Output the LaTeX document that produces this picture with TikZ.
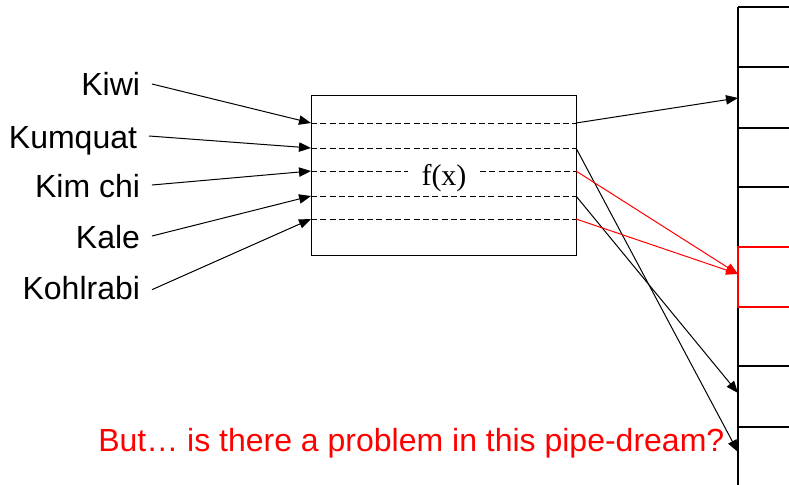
\documentclass[tikz,border=0pt]{standalone}
\usepackage{fontspec}
\setmainfont{Liberation Sans}
\newfontfamily\timesfont{Liberation Serif}
\usetikzlibrary{arrows.meta}
\begin{document}
\begin{tikzpicture}[x=0.75pt,y=-0.75pt,
  lbl/.style={anchor=base east, inner xsep=9pt, inner ysep=0pt, outer sep=0pt,
    text height=18pt, text depth=0pt, font=\fontsize{24}{28}\selectfont},
  arr/.style={-{Triangle[length=9pt,width=7pt]}, line width=0.75pt},
  redarr/.style={arr, draw=red, -{Triangle[length=9pt,width=7pt,fill=red]}},
  dashln/.style={dashed, dash pattern=on 4.5pt off 2.5pt, line width=0.75pt},
  cell/.style={line width=0.9pt},
  redcell/.style={line width=0.9pt, draw=red}
]
\useasboundingbox (0,0) rectangle (789,485);

% function box
\node[draw, line width=0.75pt, minimum width=198.75pt, minimum height=119.25pt,
  inner sep=0pt, outer sep=0pt] (fbox) at (443.5,175.5) {};
\foreach \i/\y in {1/123,2/148,3/171,4/196,5/219}{
  \coordinate (in\i) at (311,\y);
  \coordinate (out\i) at (576,\y);
}
\node[font=\timesfont\fontsize{22.5}{26}\selectfont, inner xsep=10pt, inner ysep=0pt] (fx) at (444,178) {f(x)};
\draw[dashln] (in1) -- (out1);
\draw[dashln] (in2) -- (out2);
\draw[dashln] (in3) -- (in3 -| fx.west);
\draw[dashln] (fx.east |- out3) -- (out3);
\draw[dashln] (in4) -- (out4);
\draw[dashln] (in5) -- (out5);

% labels
\node[lbl] (kiwi) at (152,96) {Kiwi};
\node[lbl] (kumquat) at (149,148) {Kumquat};
\node[lbl] (kimchi) at (152,197) {Kim chi};
\node[lbl] (kale) at (152,248) {Kale};
\node[lbl] (kohl) at (152,299) {Kohlrabi};

\draw[arr] (kiwi.east) -- (in1);
\draw[arr] (kumquat.east) -- (in2);
\draw[arr] (kimchi.east) -- (in3);
\draw[arr] (kale.east) -- (in4);
\draw[arr] ([yshift=-2pt]kohl.east) -- (in5);

% hash table column
\draw[cell] (738,7) -- (738,485);
\foreach \y in {7,67,128,187,366,427}{
  \draw[cell] (738,\y) -- (789,\y);
}
\draw[redcell] (789,247) -- (738,247) -- (738,307) -- (789,307);

\coordinate (t1) at (738,98);
\coordinate (t2) at (738,274);
\coordinate (t3) at (738,393);
\coordinate (t4) at (738,452);

\draw[arr] (out1) -- (t1);
\draw[arr] (out2) -- (t4);
\draw[arr] (out4) -- (t3);
\draw[redarr] (out3) -- (t2);
\draw[redarr] (out5) -- (t2);

% question
\node[anchor=base west, inner sep=0pt, text=red, font=\fontsize{24}{28}\selectfont] (q) at (98,451)
  {But… is there a problem in this pipe-dream?};
\end{tikzpicture}
\end{document}
